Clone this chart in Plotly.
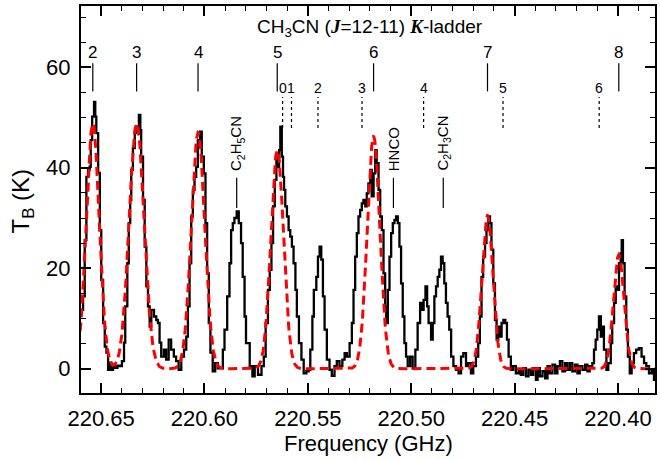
import numpy as np
import plotly.graph_objects as go

# ---------------- data ----------------
freq_obs = [
 220.6598,220.6587,220.6579,220.6571,220.6563,220.6555,220.6550,220.6543,220.6534,220.6528,
 220.6523,220.6514,220.6506,220.6499,220.6490,220.6482,220.6474,220.6466,220.6458,220.6450,
 220.6442,220.6434,220.6421,220.6410,220.6399,220.6389,220.6383,220.6373,220.6366,220.6359,
 220.6354,220.6346,220.6337,220.6330,220.6321,220.6317,220.6310,220.6306,220.6297,220.6289,
 220.6281,220.6273,220.6265,220.6257,220.6244,220.6233,220.6225,220.6217,220.6209,220.6196,
 220.6185,220.6173,220.6161,220.6148,220.6137,220.6125,220.6112,220.6099,220.6088,220.6080,
 220.6072,220.6064,220.6056,220.6048,220.6040,220.6032,220.6021,220.6013,220.6003,220.5995,
 220.5987,220.5979,220.5971,220.5960,220.5948,220.5935,220.5922,220.5911,220.5903,220.5890,
 220.5879,220.5871,220.5863,220.5855,220.5844,220.5834,220.5823,220.5815,220.5806,220.5799,
 220.5781,220.5768,220.5757,220.5741,220.5724,220.5713,220.5704,220.5693,220.5684,220.5676,
 220.5668,220.5660,220.5652,220.5644,220.5639,220.5633,220.5626,220.5620,220.5615,220.5609,
 220.5601,220.5593,220.5585,220.5577,220.5569,220.5560,220.5553,220.5543,220.5531,220.5520,
 220.5507,220.5496,220.5488,220.5478,220.5471,220.5459,220.5451,220.5443,220.5435,220.5427,
 220.5419,220.5408,220.5395,220.5384,220.5371,220.5360,220.5347,220.5333,220.5322,220.5311,
 220.5298,220.5287,220.5279,220.5271,220.5263,220.5255,220.5247,220.5239,220.5231,220.5222,
 220.5215,220.5207,220.5198,220.5191,220.5182,220.5174,220.5167,220.5158,220.5150,220.5142,
 220.5134,220.5126,220.5121,220.5113,220.5105,220.5097,220.5089,220.5081,220.5073,220.5065,
 220.5057,220.5049,220.5041,220.5033,220.5025,220.5017,220.5005,220.4993,220.4980,220.4969,
 220.4957,220.4947,220.4940,220.4931,220.4923,220.4916,220.4904,220.4896,220.4888,220.4880,
 220.4872,220.4864,220.4856,220.4848,220.4840,220.4832,220.4824,220.4816,220.4807,220.4796,
 220.4783,220.4771,220.4759,220.4748,220.4735,220.4724,220.4711,220.4700,220.4687,220.4676,
 220.4668,220.4660,220.4652,220.4643,220.4636,220.4627,220.4619,220.4612,220.4603,220.4595,
 220.4587,220.4579,220.4571,220.4563,220.4554,220.4545,220.4537,220.4529,220.4518,220.4507,
 220.4494,220.4481,220.4470,220.4458,220.4445,220.4433,220.4421,220.4410,220.4397,220.4389,
 220.4378,220.4365,220.4352,220.4341,220.4330,220.4317,220.4304,220.4293,220.4281,220.4269,
 220.4256,220.4245,220.4233,220.4221,220.4208,220.4196,220.4185,220.4172,220.4159,220.4148,
 220.4137,220.4124,220.4116,220.4108,220.4100,220.4092,220.4083,220.4076,220.4068,220.4056,
 220.4047,220.4035,220.4028,220.4019,220.4011,220.4003,220.3995,220.3987,220.3982,220.3976,
 220.3968,220.3960,220.3952,220.3943,220.3934,220.3923,220.3912,220.3899,220.3886,220.3874,
 220.3863,220.3850,220.3837,220.3826,220.3813]
tb_obs = [
 11.7,14.4,25.6,38.2,39.6,40.2,45.5,50.2,53.1,50.2,
 46.9,39.0,27.6,17.7,9.1,4.4,3.2,-0.2,1.2,-0.2,
 0.8,0.2,0.6,0.5,1.5,5.2,12.4,21.0,29.0,33.6,
 39.6,43.9,46.9,48.2,47.2,50.5,47.5,42.2,33.6,24.3,
 16.4,12.4,8.4,11.7,10.4,9.7,9.1,5.2,2.4,3.8,
 1.8,5.8,3.8,2.4,1.5,-0.2,2.4,3.8,6.4,12.4,
 21.0,30.3,35.6,38.2,40.2,45.5,47.2,42.2,38.9,29.0,
 19.0,9.1,3.2,-0.5,1.1,0.1,0.1,3.8,7.8,14.4,
 21.0,27.6,29.0,30.0,31.3,29.0,25.0,18.3,10.4,5.1,
 0.5,-1.5,0.5,-1.2,0.5,2.4,9.1,15.7,19.7,25.0,
 32.3,37.6,42.2,40.2,43.5,48.2,42.2,38.2,35.6,32.3,
 30.3,27.6,26.3,24.3,21.0,15.7,10.4,5.1,1.8,-0.9,
 -0.5,-0.2,3.8,10.4,15.7,18.3,22.3,24.3,21.7,14.4,
 7.8,1.8,-0.2,-1.4,0.5,1.5,0.5,1.8,3.1,2.4,
 5.1,9.1,15.7,22.3,27.0,30.3,31.6,32.9,33.6,32.3,
 34.9,36.9,39.6,34.3,38.9,43.5,40.9,35.6,30.3,27.6,
 19.0,12.4,9.1,15.7,22.3,27.0,29.0,29.6,30.3,29.0,
 24.3,17.0,10.4,5.1,2.4,0.5,2.4,0.1,3.8,9.1,
 13.1,11.7,13.7,16.4,12.4,9.1,5.8,9.1,14.4,16.4,
 18.3,19.7,22.3,21.0,17.0,13.1,10.4,7.8,2.4,0.5,
 -0.2,-0.9,2.4,3.1,0.5,1.1,-0.9,0.5,2.4,5.1,
 10.4,18.3,22.3,25.0,27.6,30.3,29.0,23.7,17.0,9.7,
 5.8,8.4,6.4,9.1,9.7,9.1,5.8,2.4,-0.2,0.5,
 -0.9,-0.2,-1.2,0.1,-1.5,-0.2,-1.2,0.1,-2.2,0.1,
 -1.5,-0.5,-1.9,0.5,-0.9,0.8,-0.9,0.5,1.5,-0.5,
 1.1,-0.2,1.1,-0.5,0.8,-0.9,0.5,-0.2,0.8,-0.5,
 0.5,1.1,3.8,5.8,7.8,10.4,6.4,8.4,3.8,-0.2,
 1.1,5.1,9.1,13.1,16.4,15.7,21.0,23.0,25.6,21.0,
 14.4,7.8,2.4,-0.9,1.1,3.1,3.8,4.1,2.4,1.1,
 0.5,-0.9,-0.2,-2.2,-0.2]

# Gaussian model components (CH3CN K=2..8)
model_center = [220.6540, 220.6328, 220.6031, 220.5648, 220.5182, 220.4631, 220.3996]
model_peak   = [48.8, 48.8, 47.0, 43.5, 46.2, 30.5, 22.7]
model_fwhm   = [0.0074, 0.0085, 0.0077, 0.0072, 0.0072, 0.0063, 0.0060]

# line markers
k_labels = ["2", "3", "4", "5", "6", "7", "8"]
k_freq   = [220.6540, 220.6328, 220.6031, 220.5648, 220.5182, 220.4631, 220.3996]
c13_labels = ["0", "1", "2", "3", "4", "5", "6"]
c13_freq   = [220.5622, 220.5579, 220.5451, 220.5238, 220.4940, 220.4556, 220.4091]
species_labels = ["C<sub>2</sub>H<sub>5</sub>CN", "HNCO", "C<sub>2</sub>H<sub>3</sub>CN"]
species_freq   = [220.5844, 220.5086, 220.4845]

x_ticks = [220.65, 220.60, 220.55, 220.50, 220.45, 220.40]
y_ticks = [0, 20, 40, 60]

# ---------------- figure ----------------
FONT = "Liberation Sans, Arial, Helvetica, sans-serif"
fig = go.Figure()

fig.add_trace(go.Scatter(x=freq_obs, y=tb_obs, mode="lines",
                         line=dict(color="black", width=2.3, shape="hv"),
                         showlegend=False, hoverinfo="skip"))

fgrid = np.linspace(220.662, 220.380, 1500)
model = np.zeros_like(fgrid)
for c, a, w in zip(model_center, model_peak, model_fwhm):
    s = w / 2.3548
    model += a * np.exp(-0.5 * ((fgrid - c) / s) ** 2)
fig.add_trace(go.Scatter(x=fgrid, y=model, mode="lines",
                         line=dict(color="#ff0000", width=3, dash="9px,5px"),
                         showlegend=False, hoverinfo="skip"))

annotations = []
shapes = []
# K ladder
for lab, f in zip(k_labels, k_freq):
    shapes.append(dict(type="line", xref="x", yref="y", x0=f, x1=f, y0=55.2, y1=60.8,
                       line=dict(color="black", width=1.2)))
    annotations.append(dict(x=f, y=63.0, xref="x", yref="y", text=lab, showarrow=False,
                            font=dict(family=FONT, size=17, color="black"),
                            xanchor="center", yanchor="middle"))
# CH3-13CN
for lab, f in zip(c13_labels, c13_freq):
    shapes.append(dict(type="line", xref="x", yref="y", x0=f, x1=f, y0=47.9, y1=54.1,
                       line=dict(color="black", width=1.2, dash="dot")))
    annotations.append(dict(x=f, y=55.8, xref="x", yref="y", text=lab, showarrow=False,
                            font=dict(family=FONT, size=14, color="black"),
                            xanchor="center", yanchor="middle"))
# other species
for lab, f in zip(species_labels, species_freq):
    shapes.append(dict(type="line", xref="x", yref="y", x0=f, x1=f, y0=32.0, y1=38.0,
                       line=dict(color="black", width=1.2)))
    annotations.append(dict(x=f, y=39.0, xref="x", yref="y", text=lab, showarrow=False,
                            textangle=-90,
                            font=dict(family=FONT, size=15, color="black"),
                            xanchor="center", yanchor="bottom"))
# header
annotations.append(dict(x=0.5035, y=67.9, xref="paper", yref="y",
                        text="CH<sub>3</sub>CN (<span style='font-family:Liberation Serif'><b><i>J</i></b></span>=12-11) "
                             "<span style='font-family:Liberation Serif'><b><i>K</i></b></span>-ladder",
                        showarrow=False, font=dict(family=FONT, size=19, color="black"),
                        xanchor="center", yanchor="middle"))
# axis titles
annotations.append(dict(x=0.5, y=-0.131, xref="paper", yref="paper",
                        text="Frequency (GHz)", showarrow=False,
                        font=dict(family=FONT, size=22, color="black"),
                        xanchor="center", yanchor="middle"))
annotations.append(dict(x=-0.102, y=0.496, xref="paper", yref="paper",
                        text="T<sub>B</sub> (K)", showarrow=False, textangle=-90,
                        font=dict(family=FONT, size=24, color="black"),
                        xanchor="center", yanchor="middle"))

axis_common = dict(showgrid=False, zeroline=False, showline=True, linecolor="black",
                   linewidth=2, mirror="ticks", ticks="inside", ticklen=10, tickwidth=1.5,
                   tickcolor="black",
                   tickfont=dict(family=FONT, size=22, color="black"))

fig.update_layout(
    width=660, height=460,
    margin=dict(l=81, r=3, t=6, b=67),
    paper_bgcolor="white", plot_bgcolor="white",
    shapes=shapes, annotations=annotations,
    xaxis=dict(range=[220.6597, 220.3821], tickvals=x_ticks,
               ticktext=[f"{v:.2f}" for v in x_ticks], ticklabelstandoff=5,
               minor=dict(dtick=0.01, tick0=220.40, ticks="inside", ticklen=5,
                          tickwidth=1.2, tickcolor="black"),
               **axis_common),
    yaxis=dict(range=[-4.83, 72.2], tickvals=y_ticks, ticklabelstandoff=4,
               minor=dict(dtick=5, tick0=0, ticks="inside", ticklen=5,
                          tickwidth=1.2, tickcolor="black"),
               **axis_common),
)

fig.write_html("out.html")
